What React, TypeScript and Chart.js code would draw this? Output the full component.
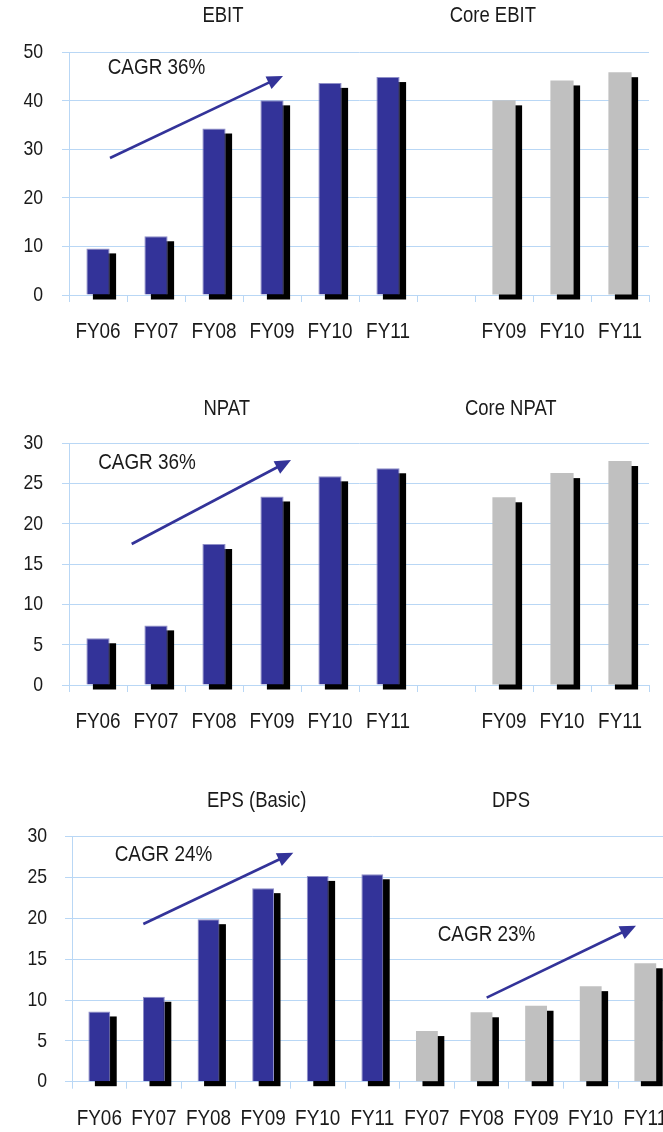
import React, { useEffect, useRef } from 'react';
import { Chart, registerables } from 'chart.js';

Chart.register(...registerables);

const FONT = "'Liberation Sans', Arial, sans-serif";
const SQUEEZE = 0.84;
const LABEL_SQUEEZE = 0.88;
const BLUE = '#333399';
const BLUE_EDGE = '#8f8fc8';
const GREY = '#c0c0c0';
const GRID = '#b9d7f5';
const TEXT = '#1a1a1a';
const SHADOW_DX = 6.5;
const SHADOW_DY = 5;

// ---------- data ----------
const ebitLabels = ['FY06', 'FY07', 'FY08', 'FY09', 'FY10', 'FY11', '', 'FY09', 'FY10', 'FY11'];
const ebitValues = [9.6, 12.1, 34.3, 40.1, 43.7, 44.9];
const coreEbitValues = [40.1, 44.2, 45.9];

const npatLabels = ['FY06', 'FY07', 'FY08', 'FY09', 'FY10', 'FY11', '', 'FY09', 'FY10', 'FY11'];
const npatValues = [5.8, 7.4, 17.5, 23.4, 25.9, 26.9];
const coreNpatValues = [23.3, 26.3, 27.8];

const epsLabels = ['FY06', 'FY07', 'FY08', 'FY09', 'FY10', 'FY11', 'FY07', 'FY08', 'FY09', 'FY10', 'FY11'];
const epsValues = [8.6, 10.4, 19.9, 23.7, 25.2, 25.4];
const dpsValues = [6.2, 8.5, 9.3, 11.7, 14.5];

const ebitAxis = { max: 50, step: 10 };
const npatAxis = { max: 30, step: 5 };
const epsAxis = { max: 30, step: 5 };

type Note =
  | { kind: 'text'; x: number; y: number; text: string; size: number }
  | { kind: 'arrow'; x1: number; y1: number; x2: number; y2: number };

const ebitNotes: Note[] = [
  { kind: 'text', x: 2.155, y: 57.55, text: 'EBIT', size: 22 },
  { kind: 'text', x: 6.807, y: 57.55, text: 'Core EBIT', size: 22 },
  { kind: 'text', x: 1.009, y: 46.84, text: 'CAGR 36%', size: 22.5 },
  { kind: 'arrow', x1: 0.207, y1: 28.23, x2: 3.19, y2: 45.13 },
];
const npatNotes: Note[] = [
  { kind: 'text', x: 2.219, y: 34.22, text: 'NPAT', size: 22 },
  { kind: 'text', x: 7.117, y: 34.22, text: 'Core NPAT', size: 22 },
  { kind: 'text', x: 0.845, y: 27.55, text: 'CAGR 36%', size: 22.5 },
  { kind: 'arrow', x1: 0.581, y1: 17.5, x2: 3.328, y2: 27.93 },
];
const epsNotes: Note[] = [
  { kind: 'text', x: 2.883, y: 34.37, text: 'EPS (Basic)', size: 22 },
  { kind: 'text', x: 7.54, y: 34.37, text: 'DPS', size: 22 },
  { kind: 'text', x: 1.176, y: 27.76, text: 'CAGR 24%', size: 22.5 },
  { kind: 'arrow', x1: 0.806, y1: 19.31, x2: 3.553, y2: 28.04 },
  { kind: 'text', x: 7.092, y: 17.96, text: 'CAGR 23%', size: 22.5 },
  { kind: 'arrow', x1: 7.095, y1: 10.29, x2: 9.83, y2: 19.1 },
];

// ---------- helpers ----------
function drawText(
  ctx: CanvasRenderingContext2D,
  text: string,
  x: number,
  y: number,
  size: number,
  align: CanvasTextAlign,
  squeeze: number = SQUEEZE
) {
  ctx.save();
  ctx.translate(x, y);
  ctx.scale(squeeze, 1);
  ctx.font = `${size}px ${FONT}`;
  ctx.fillStyle = TEXT;
  ctx.textAlign = align;
  ctx.textBaseline = 'middle';
  ctx.fillText(text, 0, 0);
  ctx.restore();
}

const shadowPlugin = {
  id: 'barShadow',
  beforeDatasetsDraw(chart: any) {
    const ctx = chart.ctx;
    ctx.save();
    ctx.fillStyle = '#000000';
    chart.data.datasets.forEach((ds: any, i: number) => {
      const meta = chart.getDatasetMeta(i);
      meta.data.forEach((bar: any, j: number) => {
        const v = ds.data[j];
        if (v === null || v === undefined) return;
        const p = bar.getProps(['x', 'y', 'base', 'width'], true);
        ctx.fillRect(p.x - p.width / 2 + SHADOW_DX, p.y + SHADOW_DY, p.width, p.base - p.y);
      });
    });
    ctx.restore();
  },
};

function drawArrow(ctx: CanvasRenderingContext2D, x1: number, y1: number, x2: number, y2: number) {
  const ang = Math.atan2(y2 - y1, x2 - x1);
  const head = 16;
  const hw = 7;
  const bx = x2 - head * Math.cos(ang);
  const by = y2 - head * Math.sin(ang);
  ctx.strokeStyle = BLUE;
  ctx.lineWidth = 2.6;
  ctx.beginPath();
  ctx.moveTo(x1, y1);
  ctx.lineTo(bx + 2 * Math.cos(ang), by + 2 * Math.sin(ang));
  ctx.stroke();
  ctx.fillStyle = BLUE;
  ctx.beginPath();
  ctx.moveTo(x2, y2);
  ctx.lineTo(bx + hw * Math.sin(ang), by - hw * Math.cos(ang));
  ctx.lineTo(bx - hw * Math.sin(ang), by + hw * Math.cos(ang));
  ctx.closePath();
  ctx.fill();
}

function labelsPlugin(yPad: number) {
  return {
    id: 'squeezedLabels',
    afterDraw(chart: any) {
      const ctx: CanvasRenderingContext2D = chart.ctx;
      const xs = chart.scales.x;
      const ys = chart.scales.y;
      const area = chart.chartArea;
      const labels: string[] = chart.data.labels;
      labels.forEach((lab, i) => {
        if (!lab) return;
        drawText(ctx, lab, xs.getPixelForTick(i), area.bottom + 37.5, 21.5, 'center', LABEL_SQUEEZE);
      });
      ys.ticks.forEach((t: any) => {
        drawText(ctx, String(t.value), area.left - 7 - yPad, ys.getPixelForValue(t.value), 21, 'right');
      });
    },
  };
}

function notesPlugin(notes: Note[]) {
  return {
    id: 'notes',
    afterDraw(chart: any) {
      const ctx: CanvasRenderingContext2D = chart.ctx;
      const xs = chart.scales.x;
      const ys = chart.scales.y;
      for (const n of notes) {
        if (n.kind === 'text') {
          drawText(ctx, n.text, xs.getPixelForValue(n.x), ys.getPixelForValue(n.y), n.size, 'center');
        } else {
          ctx.save();
          drawArrow(
            ctx,
            xs.getPixelForValue(n.x1),
            ys.getPixelForValue(n.y1),
            xs.getPixelForValue(n.x2),
            ys.getPixelForValue(n.y2)
          );
          ctx.restore();
        }
      }
    },
  };
}

type PanelProps = {
  top: number;
  width: number;
  height: number;
  left: number;
  right: number;
  chartTop: number;
  chartBottom: number;
  labels: string[];
  primary: number[];
  secondary: number[];
  max: number;
  step: number;
  yPad: number;
  notes: Note[];
};

function Panel(props: PanelProps) {
  const ref = useRef<HTMLCanvasElement | null>(null);
  useEffect(() => {
    if (!ref.current) return;
    const n = props.labels.length;
    const prim: (number | null)[] = props.labels.map((_, i) => (i < props.primary.length ? props.primary[i] : null));
    const secStart = n - props.secondary.length;
    const sec: (number | null)[] = props.labels.map((_, i) => (i >= secStart ? props.secondary[i - secStart] : null));
    const chart = new Chart(ref.current, {
      type: 'bar',
      data: {
        labels: props.labels,
        datasets: [
          {
            data: prim,
            backgroundColor: BLUE,
            borderColor: BLUE_EDGE,
            borderWidth: 1,
            grouped: false,
            barPercentage: 0.4,
            categoryPercentage: 1,
          } as any,
          {
            data: sec,
            backgroundColor: GREY,
            borderWidth: 0,
            grouped: false,
            barPercentage: 0.4,
            categoryPercentage: 1,
          } as any,
        ],
      },
      options: {
        responsive: false,
        animation: false,
        events: [],
        layout: {
          padding: { top: props.chartTop, bottom: 0, left: 0, right: props.width - props.right },
        },
        plugins: {
          legend: { display: false },
          tooltip: { enabled: false },
          title: { display: false },
        },
        scales: {
          x: {
            type: 'category',
            offset: true,
            grid: {
              offset: true,
              drawOnChartArea: false,
              drawTicks: true,
              tickLength: 7,
              color: GRID,
              lineWidth: 1,
            },
            border: { color: GRID, width: 1 },
            ticks: { display: false, autoSkip: false, maxRotation: 0 },
            afterFit: (s: any) => {
              s.height = props.height - props.chartBottom;
            },
          },
          y: {
            min: 0,
            max: props.max,
            ticks: { stepSize: props.step, display: false },
            grid: { color: GRID, lineWidth: 1, tickLength: 7, drawTicks: true },
            border: { color: GRID, width: 1 },
            afterFit: (s: any) => {
              s.width = props.left;
            },
          },
        },
      } as any,
      plugins: [shadowPlugin, labelsPlugin(props.yPad), notesPlugin(props.notes)],
    });
    return () => chart.destroy();
  }, []);
  return (
    <canvas
      ref={ref}
      width={props.width}
      height={props.height}
      style={{ position: 'absolute', left: 0, top: props.top, width: props.width, height: props.height }}
    />
  );
}

export default function App() {
  return (
    <div
      style={{
        position: 'absolute',
        left: 0,
        top: 0,
        width: 663,
        height: 1132,
        overflow: 'hidden',
        background: '#ffffff',
      }}
    >
      <Panel
        top={0}
        width={663}
        height={350}
        left={69}
        right={649}
        chartTop={52.3}
        chartBottom={295}
        labels={ebitLabels}
        primary={ebitValues}
        secondary={coreEbitValues}
        max={ebitAxis.max}
        step={ebitAxis.step}
        yPad={19}
        notes={ebitNotes}
      />
      <Panel
        top={390}
        width={663}
        height={350}
        left={69}
        right={649}
        chartTop={53.3}
        chartBottom={295}
        labels={npatLabels}
        primary={npatValues}
        secondary={coreNpatValues}
        max={npatAxis.max}
        step={npatAxis.step}
        yPad={19}
        notes={npatNotes}
      />
      <Panel
        top={780}
        width={690}
        height={352}
        left={72}
        right={672.6}
        chartTop={56.7}
        chartBottom={301.7}
        labels={epsLabels}
        primary={epsValues}
        secondary={dpsValues}
        max={epsAxis.max}
        step={epsAxis.step}
        yPad={18}
        notes={epsNotes}
      />
    </div>
  );
}
